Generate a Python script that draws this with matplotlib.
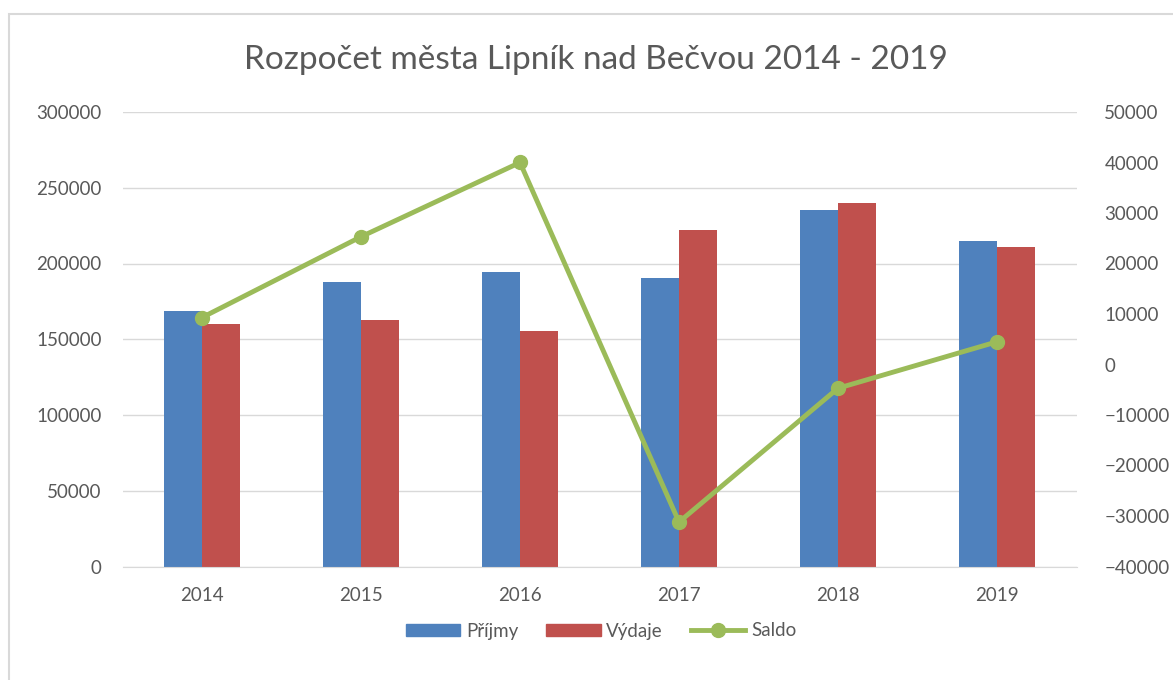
import matplotlib.pyplot as plt
import numpy as np
from matplotlib.patches import Rectangle
from matplotlib.lines import Line2D

years = ["2014", "2015", "2016", "2017", "2018", "2019"]
prijmy = [168500, 188000, 194700, 190500, 235300, 215100]
vydaje = [160200, 162800, 155300, 221900, 239700, 210700]
saldo = [9300, 25300, 40000, -31200, -4700, 4500]

blue = "#4F81BD"
red = "#C0504D"
green = "#9BBB59"
txt = "#595959"
grid = "#D9D9D9"

plt.rcParams["font.family"] = ["Lato", "DejaVu Sans"]

fig = plt.figure(figsize=(11.73, 6.8), dpi=100)
fig.patches.append(Rectangle((9 / 1173, -0.1), 1.2, (680 - 14) / 680 + 0.1,
                             transform=fig.transFigure, fill=False,
                             edgecolor=grid, linewidth=1.5))

ax = fig.add_axes([122.5 / 1173, 113.5 / 680, 954 / 1173, 454.5 / 680])
x = np.arange(len(years))
w = 0.24
ax.bar(x - w / 2, prijmy, w, color=blue, label="Příjmy", zorder=2)
ax.bar(x + w / 2, vydaje, w, color=red, label="Výdaje", zorder=2)
ax.set_xlim(-0.5, len(years) - 0.5)
ax.set_ylim(0, 300000)
ax.set_yticks(range(0, 300001, 50000))
ax.set_xticks(x)
ax.set_xticklabels(years)
ax.grid(axis="y", color=grid, linewidth=1, zorder=0)
ax.set_axisbelow(True)
for s in ["top", "left", "right"]:
    ax.spines[s].set_visible(False)
ax.spines["bottom"].set_color(grid)
ax.tick_params(length=0, labelsize=13.5, colors=txt)
ax.tick_params(axis="x", pad=15)
ax.tick_params(axis="y", pad=15)

ax2 = ax.twinx()
ax2.plot(x, saldo, color=green, linewidth=3.5, marker="o", markersize=10,
         label="Saldo", zorder=3)
ax2.set_ylim(-40000, 50000)
ax2.set_yticks(range(-40000, 50001, 10000))
for s in ax2.spines.values():
    s.set_visible(False)
ax2.tick_params(length=0, labelsize=13.5, colors=txt, pad=20)

fig.text(596 / 1173, 1 - 60 / 680, "Rozpočet města Lipník nad Bečvou 2014 - 2019",
         ha="center", va="center", fontsize=24, color=txt)

handles = [Rectangle((0, 0), 1, 1, color=blue), Rectangle((0, 0), 1, 1, color=red),
           Line2D([], [], color=green, linewidth=3.5, marker="o", markersize=10)]
fig.legend(handles, ["Příjmy", "Výdaje", "Saldo"], loc="center",
           bbox_to_anchor=(601 / 1173, 1 - 631 / 680), ncol=3, frameon=False,
           fontsize=13.5, labelcolor=txt, handlelength=2.9, handleheight=0.6,
           columnspacing=1.5, handletextpad=0.3)

fig.savefig("out.png", dpi=100)
